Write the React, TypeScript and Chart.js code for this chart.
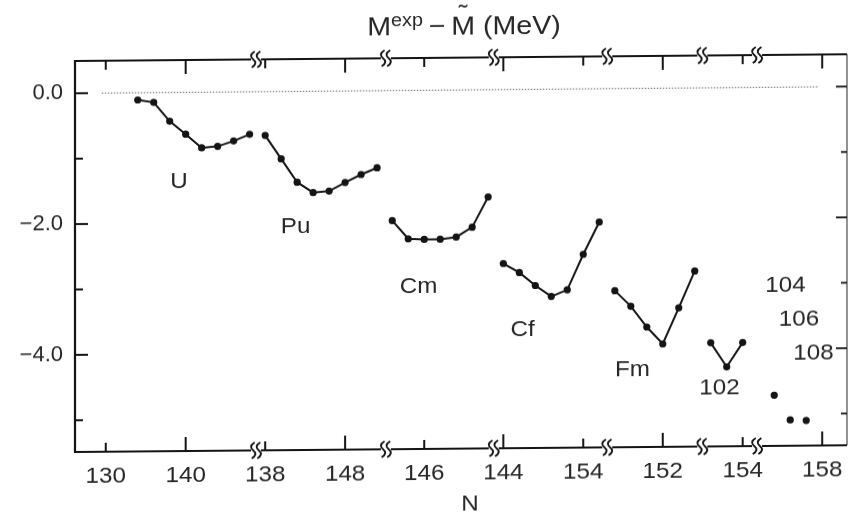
import React, { useEffect, useRef } from 'react';
import { Chart, registerables } from 'chart.js';

Chart.register(...registerables);

// Shell-correction energy Mexp − M̃ (MeV) against neutron number N, one run per element
const uN = [134, 136, 138, 140, 142, 144, 146, 148];
const uE = [-0.11, -0.15, -0.44, -0.64, -0.85, -0.83, -0.75, -0.65];
const puN = [138, 140, 142, 144, 146, 148, 150, 152];
const puE = [-0.67, -1.03, -1.39, -1.55, -1.53, -1.4, -1.28, -1.18];
const cmN = [142, 144, 146, 148, 150, 152, 154];
const cmE = [-1.99, -2.27, -2.28, -2.28, -2.25, -2.1, -1.64];
const cfN = [144, 146, 148, 150, 152, 154, 156];
const cfE = [-2.66, -2.8, -3.0, -3.17, -3.07, -2.53, -2.04];
const fmN = [146, 148, 150, 152, 154, 156];
const fmE = [-3.09, -3.33, -3.65, -3.91, -3.36, -2.8];
const z102N = [150, 152, 154];
const z102E = [-3.9, -4.27, -3.9];
const z104N = [152];
const z104E = [-4.71];
const z106N = [154];
const z106E = [-5.09];
const z108N = [156];
const z108E = [-5.1];

// names written beside the curves, anchored in (N, energy) of their own axis segment
const elementNames = ['U', 'Pu', 'Cm', 'Cf', 'Fm', '102', '104', '106', '108'];
const nameSegment = [0, 1, 2, 3, 4, 5, 6, 6, 6];
const nameN = [139.15, 141.8, 145.3, 146.4, 148.2, 151.1, 153.4, 155.1, 156.9];
const nameE = [-1.37, -2.07, -3.01, -3.68, -4.31, -4.59, -3.03, -3.55, -4.08];

// broken N axis: every segment owns a scale; the axis is cut at segmentEnd
const segmentStart = [126.15, 114.2, 102.3, 90.4, 78.45, 70.45, 64.5];
const segmentEnd = [148.8, 153.1, 154.7, 157.0, 156.95, 155.8];
const segmentTicks = [[130, 140], [138, 148], [146], [144, 154], [152], [154], [158]];
const longTicks = [140, 148, 144, 152, 158];
const segmentSpan = 96.6;

// energy axis
const energyTicks = [0, -1, -2, -3, -4, -5];
const energyLabels = ['0.0', '', '−2.0', '', '−4.0', ''];
const energyMin = -5.485;
const energyMax = 0.494;

const FONT = "'Liberation Sans', Arial, Helvetica, sans-serif";
const INK = '#141414';
const TEXT = '#262626';

const series = [
  { n: uN, e: uE, seg: 0 },
  { n: puN, e: puE, seg: 1 },
  { n: cmN, e: cmE, seg: 2 },
  { n: cfN, e: cfE, seg: 3 },
  { n: fmN, e: fmE, seg: 4 },
  { n: z102N, e: z102E, seg: 5 },
  { n: z104N, e: z104E, seg: 6 },
  { n: z106N, e: z106E, seg: 6 },
  { n: z108N, e: z108E, seg: 6 },
];

function stretchedText(ctx: CanvasRenderingContext2D, text: string, x: number, y: number, size: number, sx = 1.1) {
  ctx.save();
  ctx.font = `${size}px ${FONT}`;
  ctx.translate(x, y);
  ctx.scale(sx, 1);
  ctx.fillText(text, 0, 0);
  ctx.restore();
}

function line(ctx: CanvasRenderingContext2D, x1: number, y1: number, x2: number, y2: number) {
  ctx.beginPath();
  ctx.moveTo(x1, y1);
  ctx.lineTo(x2, y2);
  ctx.stroke();
}

// the "≀≀" cut mark placed across an axis line
function cutMark(ctx: CanvasRenderingContext2D, cx: number, cy: number) {
  ctx.save();
  ctx.lineWidth = 1.9;
  for (const dx of [-2.8, 2.8]) {
    const x = cx + dx;
    ctx.beginPath();
    ctx.moveTo(x + 1.5, cy - 8);
    ctx.quadraticCurveTo(x - 5, cy - 4, x, cy);
    ctx.quadraticCurveTo(x + 5, cy + 4, x - 1.5, cy + 8);
    ctx.stroke();
  }
  ctx.restore();
}

const brokenFrame = {
  id: 'brokenFrame',
  beforeDatasetsDraw(chart: any) {
    const { ctx } = chart;
    const y = chart.scales.y.getPixelForValue(0);
    const x1 = chart.scales.x0.getPixelForValue(129.5);
    const x2 = chart.scales.x6.getPixelForValue(157.6);
    ctx.save();
    ctx.strokeStyle = '#8a8a8a';
    ctx.lineWidth = 1.2;
    ctx.setLineDash([1.5, 1.5]);
    line(ctx, x1, y, x2, y);
    ctx.restore();
  },
  afterDraw(chart: any) {
    const { ctx, chartArea } = chart;
    const { left, right, top, bottom } = chartArea;
    const yScale = chart.scales.y;
    ctx.save();
    ctx.strokeStyle = INK;
    ctx.lineCap = 'butt';

    // left spine and faint right spine
    ctx.lineWidth = 2.2;
    line(ctx, left, top - 1, left, bottom + 1);
    ctx.save();
    ctx.lineWidth = 1.3;
    ctx.strokeStyle = '#555';
    line(ctx, right, top, right, bottom);
    ctx.restore();

    // top and bottom axis lines, cut between segments
    const cuts = segmentEnd.map((e, i) => chart.scales['x' + i].getPixelForValue(e));
    ctx.lineWidth = 2;
    for (const yy of [top, bottom]) {
      let start = left;
      for (const c of cuts) {
        line(ctx, start, yy, c - 5, yy);
        start = c + 5;
      }
      line(ctx, start, yy, right, yy);
      for (const c of cuts) cutMark(ctx, c, yy);
    }

    // N ticks (inside, top and bottom) and their labels
    ctx.fillStyle = TEXT;
    ctx.textAlign = 'center';
    ctx.textBaseline = 'middle';
    segmentTicks.forEach((list, i) => {
      const sc = chart.scales['x' + i];
      list.forEach((n) => {
        const px = sc.getPixelForValue(n);
        const len = longTicks.includes(n) ? 14 : 9;
        ctx.lineWidth = 2;
        line(ctx, px, bottom, px, bottom - len);
        line(ctx, px, top, px, top + len);
        stretchedText(ctx, String(n), px, bottom + 25, 22);
      });
    });

    // energy ticks, left and right
    energyTicks.forEach((v, i) => {
      const py = yScale.getPixelForValue(v);
      const major = energyLabels[i] !== '';
      ctx.lineWidth = 2;
      line(ctx, left, py, left + (major ? 13 : 8), py);
      ctx.lineWidth = 1.8;
      line(ctx, right, py, right - (major ? 11 : 6), py);
    });

    // element names
    elementNames.forEach((name, i) => {
      const px = chart.scales['x' + nameSegment[i]].getPixelForValue(nameN[i]);
      const py = yScale.getPixelForValue(nameE[i]);
      stretchedText(ctx, name, px, py, 22);
    });

    // axis title N
    stretchedText(ctx, 'N', 470, 508, 22);

    // title: M^exp − M̃ (MeV)
    const big = 26;
    const small = 18;
    const sx = 1.1;
    ctx.textAlign = 'left';
    ctx.textBaseline = 'alphabetic';
    const parts: [string, number, number][] = [
      ['M', big, 0],
      ['exp', small, -9],
      ['\u2009−\u2009', big, 0],
      ['M', big, 0],
      [' (MeV)', big, 0],
    ];
    const widths = parts.map(([t, s]) => {
      ctx.font = `${s}px ${FONT}`;
      return ctx.measureText(t).width * sx;
    });
    const total = widths.reduce((a, b) => a + b, 0);
    let x = 464 - total / 2;
    const base = 38;
    parts.forEach(([t, s, dy], i) => {
      stretchedText(ctx, t, x, base + dy, s, sx);
      if (i === 3) {
        ctx.save();
        ctx.textAlign = 'center';
        stretchedText(ctx, '˜', x + widths[i] / 2, base - 13, 24, sx);
        ctx.restore();
      }
      x += widths[i];
    });
    ctx.restore();
  },
};

export default function App() {
  const canvasRef = useRef<HTMLCanvasElement | null>(null);

  useEffect(() => {
    const canvas = canvasRef.current;
    if (!canvas) return;

    const scales: any = {
      y: {
        type: 'linear',
        position: 'left',
        min: energyMin,
        max: energyMax,
        afterFit: (s: any) => {
          s.width = 75;
        },
        afterBuildTicks: (s: any) => {
          s.ticks = energyTicks.map((v) => ({ value: v }));
        },
        grid: { display: false, drawTicks: false },
        border: { display: false },
        ticks: {
          padding: 12,
          color: TEXT,
          font: { family: FONT, size: 22 },
          autoSkip: false,
          callback: (v: number) => {
            const i = energyTicks.findIndex((t) => Math.abs(t - v) < 1e-6);
            return i >= 0 ? energyLabels[i] : '';
          },
        },
      },
    };
    segmentStart.forEach((s, i) => {
      scales['x' + i] = {
        type: 'linear',
        display: false,
        min: s,
        max: s + segmentSpan,
      };
    });

    const chart = new Chart(canvas, {
      type: 'line',
      data: {
        datasets: series.map((s) => ({
          data: s.n.map((n, i) => ({ x: n, y: s.e[i] })),
          xAxisID: 'x' + s.seg,
          yAxisID: 'y',
          showLine: s.n.length > 1,
          borderColor: INK,
          backgroundColor: INK,
          pointBackgroundColor: INK,
          pointBorderColor: INK,
          borderWidth: 2,
          pointRadius: 3.6,
          pointBorderWidth: 0,
          tension: 0,
        })),
      },
      options: {
        responsive: false,
        maintainAspectRatio: false,
        animation: false,
        devicePixelRatio: 1,
        events: [],
        layout: { padding: { left: 0, top: 61, right: 3, bottom: 67 } },
        plugins: { legend: { display: false }, tooltip: { enabled: false } },
        scales,
      },
      plugins: [brokenFrame],
    });
    return () => chart.destroy();
  }, []);

  return (
    <div style={{ position: 'absolute', left: 0, top: 0, width: 851, height: 519, background: '#fff' }}>
      <canvas
        ref={canvasRef}
        width={851}
        height={519}
        style={{ display: 'block', transform: 'skewY(-0.5deg)', transformOrigin: '75px 0px' }}
      />
    </div>
  );
}
